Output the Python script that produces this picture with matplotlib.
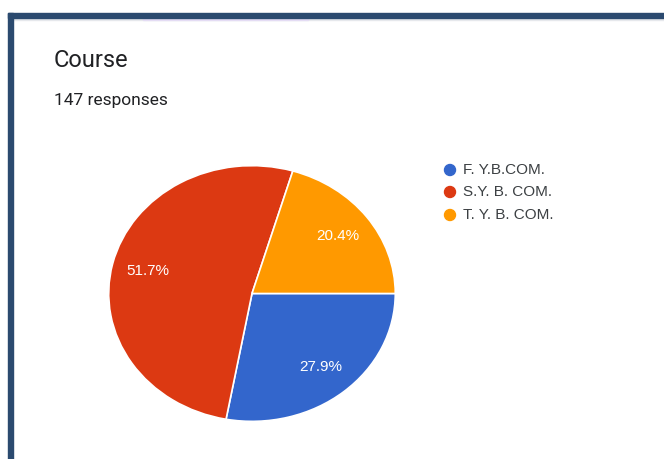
import matplotlib
matplotlib.use("Agg")
import matplotlib.pyplot as plt
from matplotlib.patches import Rectangle, Ellipse

title = "Course"
subtitle = "147 responses"
categories = ["F. Y.B.COM.", "S.Y. B. COM.", "T. Y. B. COM."]
shares = [27.9, 51.7, 20.4]
colors = ["#3366cc", "#dc3912", "#ff9900"]

W, H = 664, 459
fig = plt.figure(figsize=(W / 100, H / 100), dpi=100)
fig.patch.set_facecolor("white")

def fx(px):
    return px / W

def fy(py):
    return 1 - py / H

# frame border (top and left)
border = "#2b4a6f"
fig.patches.append(Rectangle((fx(8), fy(18)), fx(W) - fx(8), 5 / H, transform=fig.transFigure,
                             color=border, zorder=5))
fig.patches.append(Rectangle((fx(8), 0), 5 / W, fy(13), transform=fig.transFigure,
                             color=border, zorder=5))
fig.patches.append(Rectangle((fx(13), fy(20)), 1 - fx(13), 2 / H, transform=fig.transFigure,
                             color="#e6e8ec", zorder=4))
fig.patches.append(Rectangle((fx(143), fy(20)), fx(165), 2 / H, transform=fig.transFigure,
                             color="#e4dcf4", zorder=4))

fig.text(fx(54), fy(67), title, fontsize=17, family="Roboto", color="#202124", va="baseline")
fig.text(fx(54), fy(105), subtitle, fontsize=12.5, family="Roboto", color="#202124", va="baseline")

# pie (slightly elliptical as in the screenshot)
left, right, top, bottom = 108, 396, 165, 422
ax = fig.add_axes([fx(left), fy(bottom), fx(right - left), (bottom - top) / H])
wedges, texts, autotexts = ax.pie(
    shares, colors=colors, startangle=0, counterclock=False,
    autopct="%1.1f%%", pctdistance=0.75,
    wedgeprops=dict(edgecolor="white", linewidth=1.2),
    textprops=dict(color="white", fontsize=11, family="Liberation Sans"))
ax.set_aspect("auto")
ax.set_xlim(-1.005, 1.005)
ax.set_ylim(-1.005, 1.005)
ax.axis("off")

# legend
lax = fig.add_axes([0, 0, 1, 1], facecolor="none")
lax.set_xlim(0, W)
lax.set_ylim(H, 0)
lax.axis("off")
rows_y = [170, 192, 215]
for lab, col, yy in zip(categories, colors, rows_y):
    lax.add_patch(Ellipse((450, yy), 11, 11, color=col))
    lax.text(463, yy, lab, fontsize=11, family="Liberation Sans", color="#3c4043",
             va="center", ha="left")

fig.savefig("out.png", dpi=100, facecolor="white")
